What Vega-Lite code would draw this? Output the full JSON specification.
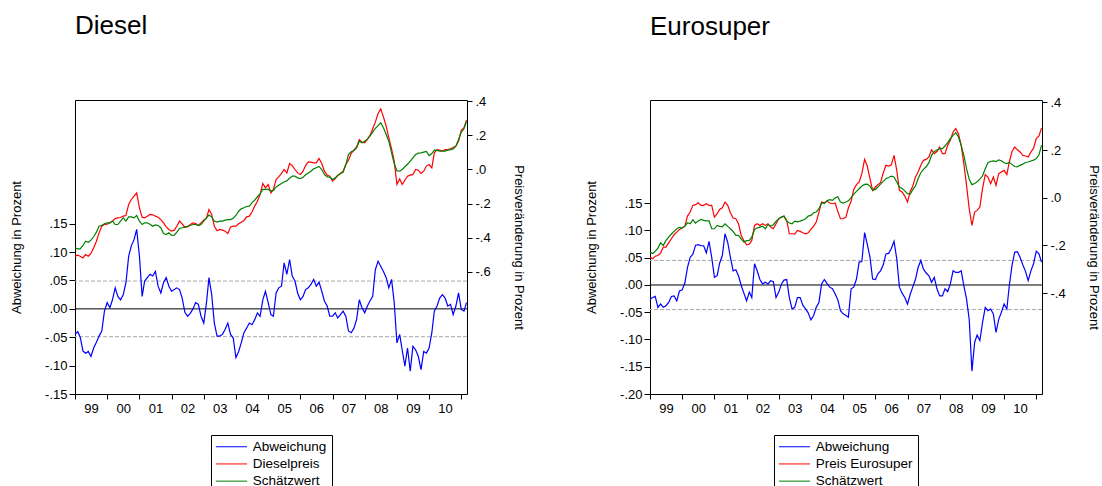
{
  "$schema": "https://vega.github.io/schema/vega-lite/v6.json",
  "padding": {"left": 10, "top": 12, "right": 5, "bottom": 5},
  "background": "white",
  "config": {
    "font": "Liberation Sans",
    "view": {"stroke": "black", "strokeWidth": 1},
    "axis": {"grid": false, "domain": false, "tickColor": "black", "tickSize": 5, "labelColor": "black", "labelFont": "Liberation Sans", "labelFontSize": 13, "titleFont": "Liberation Sans", "titleFontSize": 13, "titleFontWeight": "normal", "titleColor": "black"},
    "legend": {"orient": "none", "direction": "vertical", "title": null, "symbolType": "M-2.6,0H2.6", "symbolSize": 144, "symbolStrokeWidth": 1, "symbolOffset": 8.75, "labelFontSize": 13.5, "labelFont": "Liberation Sans", "labelColor": "black", "strokeColor": "black", "fillColor": "white", "padding": 5, "rowPadding": 2.2, "labelOffset": 14.5},
    "title": {"font": "Liberation Sans", "fontSize": 26, "fontWeight": "normal", "color": "black", "anchor": "start", "frame": "group"}
  },
  "datasets": {
    "diesel": [
      {"date":"1999-01","Abweichung":-0.045,"Dieselpreis":-0.509,"Schätzwert":-0.46},
      {"date":"1999-02","Abweichung":-0.04,"Dieselpreis":-0.503,"Schätzwert":-0.466},
      {"date":"1999-03","Abweichung":-0.05,"Dieselpreis":-0.509,"Schätzwert":-0.466},
      {"date":"1999-04","Abweichung":-0.074,"Dieselpreis":-0.519,"Schätzwert":-0.446},
      {"date":"1999-05","Abweichung":-0.078,"Dieselpreis":-0.499,"Schätzwert":-0.421},
      {"date":"1999-06","Abweichung":-0.075,"Dieselpreis":-0.509,"Schätzwert":-0.427},
      {"date":"1999-07","Abweichung":-0.084,"Dieselpreis":-0.493,"Schätzwert":-0.415},
      {"date":"1999-08","Abweichung":-0.069,"Dieselpreis":-0.46,"Schätzwert":-0.395},
      {"date":"1999-09","Abweichung":-0.059,"Dieselpreis":-0.421,"Schätzwert":-0.368},
      {"date":"1999-10","Abweichung":-0.048,"Dieselpreis":-0.372,"Schätzwert":-0.333},
      {"date":"1999-11","Abweichung":-0.039,"Dieselpreis":-0.333,"Schätzwert":-0.327},
      {"date":"1999-12","Abweichung":-0.004,"Dieselpreis":-0.323,"Schätzwert":-0.319},
      {"date":"2000-01","Abweichung":0.011,"Dieselpreis":-0.321,"Schätzwert":-0.313},
      {"date":"2000-02","Abweichung":0.002,"Dieselpreis":-0.313,"Schätzwert":-0.313},
      {"date":"2000-03","Abweichung":0.016,"Dieselpreis":-0.303,"Schätzwert":-0.303},
      {"date":"2000-04","Abweichung":0.037,"Dieselpreis":-0.288,"Schätzwert":-0.323},
      {"date":"2000-05","Abweichung":0.022,"Dieselpreis":-0.284,"Schätzwert":-0.323},
      {"date":"2000-06","Abweichung":0.016,"Dieselpreis":-0.282,"Schätzwert":-0.303},
      {"date":"2000-07","Abweichung":0.025,"Dieselpreis":-0.274,"Schätzwert":-0.284},
      {"date":"2000-08","Abweichung":0.046,"Dieselpreis":-0.27,"Schätzwert":-0.303},
      {"date":"2000-09","Abweichung":0.093,"Dieselpreis":-0.205,"Schätzwert":-0.278},
      {"date":"2000-10","Abweichung":0.111,"Dieselpreis":-0.176,"Schätzwert":-0.278},
      {"date":"2000-11","Abweichung":0.122,"Dieselpreis":-0.157,"Schätzwert":-0.284},
      {"date":"2000-12","Abweichung":0.14,"Dieselpreis":-0.137,"Schätzwert":-0.27},
      {"date":"2001-01","Abweichung":0.093,"Dieselpreis":-0.225,"Schätzwert":-0.303},
      {"date":"2001-02","Abweichung":0.022,"Dieselpreis":-0.28,"Schätzwert":-0.323},
      {"date":"2001-03","Abweichung":0.049,"Dieselpreis":-0.284,"Schätzwert":-0.313},
      {"date":"2001-04","Abweichung":0.055,"Dieselpreis":-0.274,"Schätzwert":-0.313},
      {"date":"2001-05","Abweichung":0.061,"Dieselpreis":-0.264,"Schätzwert":-0.321},
      {"date":"2001-06","Abweichung":0.058,"Dieselpreis":-0.266,"Schätzwert":-0.333},
      {"date":"2001-07","Abweichung":0.066,"Dieselpreis":-0.274,"Schätzwert":-0.325},
      {"date":"2001-08","Abweichung":0.04,"Dieselpreis":-0.28,"Schätzwert":-0.329},
      {"date":"2001-09","Abweichung":0.028,"Dieselpreis":-0.294,"Schätzwert":-0.342},
      {"date":"2001-10","Abweichung":0.046,"Dieselpreis":-0.313,"Schätzwert":-0.376},
      {"date":"2001-11","Abweichung":0.055,"Dieselpreis":-0.337,"Schätzwert":-0.382},
      {"date":"2001-12","Abweichung":0.04,"Dieselpreis":-0.352,"Schätzwert":-0.372},
      {"date":"2002-01","Abweichung":0.031,"Dieselpreis":-0.362,"Schätzwert":-0.387},
      {"date":"2002-02","Abweichung":0.034,"Dieselpreis":-0.356,"Schätzwert":-0.386},
      {"date":"2002-03","Abweichung":0.037,"Dieselpreis":-0.333,"Schätzwert":-0.368},
      {"date":"2002-04","Abweichung":0.034,"Dieselpreis":-0.303,"Schätzwert":-0.346},
      {"date":"2002-05","Abweichung":0.019,"Dieselpreis":-0.319,"Schätzwert":-0.342},
      {"date":"2002-06","Abweichung":-0.006,"Dieselpreis":-0.339,"Schätzwert":-0.337},
      {"date":"2002-07","Abweichung":-0.013,"Dieselpreis":-0.337,"Schätzwert":-0.333},
      {"date":"2002-08","Abweichung":-0.008,"Dieselpreis":-0.323,"Schätzwert":-0.329},
      {"date":"2002-09","Abweichung":0,"Dieselpreis":-0.313,"Schätzwert":-0.323},
      {"date":"2002-10","Abweichung":0.011,"Dieselpreis":-0.317,"Schätzwert":-0.323},
      {"date":"2002-11","Abweichung":0.008,"Dieselpreis":-0.329,"Schätzwert":-0.329},
      {"date":"2002-12","Abweichung":-0.013,"Dieselpreis":-0.313,"Schätzwert":-0.323},
      {"date":"2003-01","Abweichung":-0.025,"Dieselpreis":-0.297,"Schätzwert":-0.303},
      {"date":"2003-02","Abweichung":0.011,"Dieselpreis":-0.284,"Schätzwert":-0.284},
      {"date":"2003-03","Abweichung":0.055,"Dieselpreis":-0.235,"Schätzwert":-0.268},
      {"date":"2003-04","Abweichung":0.025,"Dieselpreis":-0.264,"Schätzwert":-0.278},
      {"date":"2003-05","Abweichung":-0.025,"Dieselpreis":-0.333,"Schätzwert":-0.303},
      {"date":"2003-06","Abweichung":-0.048,"Dieselpreis":-0.36,"Schätzwert":-0.309},
      {"date":"2003-07","Abweichung":-0.048,"Dieselpreis":-0.352,"Schätzwert":-0.303},
      {"date":"2003-08","Abweichung":-0.045,"Dieselpreis":-0.356,"Schätzwert":-0.303},
      {"date":"2003-09","Abweichung":-0.036,"Dieselpreis":-0.362,"Schätzwert":-0.297},
      {"date":"2003-10","Abweichung":-0.025,"Dieselpreis":-0.376,"Schätzwert":-0.294},
      {"date":"2003-11","Abweichung":-0.045,"Dieselpreis":-0.337,"Schätzwert":-0.294},
      {"date":"2003-12","Abweichung":-0.051,"Dieselpreis":-0.333,"Schätzwert":-0.286},
      {"date":"2004-01","Abweichung":-0.086,"Dieselpreis":-0.333,"Schätzwert":-0.27},
      {"date":"2004-02","Abweichung":-0.075,"Dieselpreis":-0.319,"Schätzwert":-0.245},
      {"date":"2004-03","Abweichung":-0.06,"Dieselpreis":-0.309,"Schätzwert":-0.231},
      {"date":"2004-04","Abweichung":-0.042,"Dieselpreis":-0.299,"Schätzwert":-0.225},
      {"date":"2004-05","Abweichung":-0.034,"Dieselpreis":-0.278,"Schätzwert":-0.217},
      {"date":"2004-06","Abweichung":-0.025,"Dieselpreis":-0.274,"Schätzwert":-0.215},
      {"date":"2004-07","Abweichung":-0.028,"Dieselpreis":-0.25,"Schätzwert":-0.196},
      {"date":"2004-08","Abweichung":-0.019,"Dieselpreis":-0.215,"Schätzwert":-0.18},
      {"date":"2004-09","Abweichung":-0.007,"Dieselpreis":-0.186,"Schätzwert":-0.16},
      {"date":"2004-10","Abweichung":-0.013,"Dieselpreis":-0.147,"Schätzwert":-0.143},
      {"date":"2004-11","Abweichung":0.016,"Dieselpreis":-0.082,"Schätzwert":-0.117},
      {"date":"2004-12","Abweichung":0.031,"Dieselpreis":-0.108,"Schätzwert":-0.117},
      {"date":"2005-01","Abweichung":0.011,"Dieselpreis":-0.088,"Schätzwert":-0.117},
      {"date":"2005-02","Abweichung":-0.01,"Dieselpreis":-0.137,"Schätzwert":-0.127},
      {"date":"2005-03","Abweichung":-0.013,"Dieselpreis":-0.117,"Schätzwert":-0.123},
      {"date":"2005-04","Abweichung":0.028,"Dieselpreis":-0.059,"Schätzwert":-0.102},
      {"date":"2005-05","Abweichung":0.037,"Dieselpreis":-0.043,"Schätzwert":-0.092},
      {"date":"2005-06","Abweichung":0.04,"Dieselpreis":-0.023,"Schätzwert":-0.082},
      {"date":"2005-07","Abweichung":0.081,"Dieselpreis":0,"Schätzwert":-0.072},
      {"date":"2005-08","Abweichung":0.061,"Dieselpreis":-0.02,"Schätzwert":-0.067},
      {"date":"2005-09","Abweichung":0.087,"Dieselpreis":0.035,"Schätzwert":-0.051},
      {"date":"2005-10","Abweichung":0.058,"Dieselpreis":0.023,"Schätzwert":-0.039},
      {"date":"2005-11","Abweichung":0.049,"Dieselpreis":0,"Schätzwert":-0.039},
      {"date":"2005-12","Abweichung":0.028,"Dieselpreis":-0.02,"Schätzwert":-0.049},
      {"date":"2006-01","Abweichung":0.016,"Dieselpreis":-0.029,"Schätzwert":-0.053},
      {"date":"2006-02","Abweichung":0.022,"Dieselpreis":-0.01,"Schätzwert":-0.045},
      {"date":"2006-03","Abweichung":0.034,"Dieselpreis":0.023,"Schätzwert":-0.031},
      {"date":"2006-04","Abweichung":0.037,"Dieselpreis":0.045,"Schätzwert":-0.02},
      {"date":"2006-05","Abweichung":0.043,"Dieselpreis":0.043,"Schätzwert":-0.01},
      {"date":"2006-06","Abweichung":0.052,"Dieselpreis":0.039,"Schätzwert":0.004},
      {"date":"2006-07","Abweichung":0.04,"Dieselpreis":0.039,"Schätzwert":0.01},
      {"date":"2006-08","Abweichung":0.047,"Dieselpreis":0.065,"Schätzwert":0.018},
      {"date":"2006-09","Abweichung":0.031,"Dieselpreis":0.035,"Schätzwert":0},
      {"date":"2006-10","Abweichung":0.014,"Dieselpreis":-0.01,"Schätzwert":-0.029},
      {"date":"2006-11","Abweichung":0.005,"Dieselpreis":-0.033,"Schätzwert":-0.043},
      {"date":"2006-12","Abweichung":-0.013,"Dieselpreis":-0.039,"Schätzwert":-0.045},
      {"date":"2007-01","Abweichung":-0.013,"Dieselpreis":-0.068,"Schätzwert":-0.059},
      {"date":"2007-02","Abweichung":-0.007,"Dieselpreis":-0.053,"Schätzwert":-0.049},
      {"date":"2007-03","Abweichung":-0.016,"Dieselpreis":-0.035,"Schätzwert":-0.035},
      {"date":"2007-04","Abweichung":-0.01,"Dieselpreis":-0.023,"Schätzwert":-0.023},
      {"date":"2007-05","Abweichung":-0.004,"Dieselpreis":-0.01,"Schätzwert":-0.016},
      {"date":"2007-06","Abweichung":-0.013,"Dieselpreis":0.029,"Schätzwert":0.029},
      {"date":"2007-07","Abweichung":-0.039,"Dieselpreis":0.055,"Schätzwert":0.088},
      {"date":"2007-08","Abweichung":-0.042,"Dieselpreis":0.094,"Schätzwert":0.104},
      {"date":"2007-09","Abweichung":-0.034,"Dieselpreis":0.114,"Schätzwert":0.112},
      {"date":"2007-10","Abweichung":-0.019,"Dieselpreis":0.133,"Schätzwert":0.127},
      {"date":"2007-11","Abweichung":0.016,"Dieselpreis":0.176,"Schätzwert":0.166},
      {"date":"2007-12","Abweichung":0.002,"Dieselpreis":0.16,"Schätzwert":0.157},
      {"date":"2008-01","Abweichung":-0.007,"Dieselpreis":0.157,"Schätzwert":0.166},
      {"date":"2008-02","Abweichung":0.005,"Dieselpreis":0.176,"Schätzwert":0.18},
      {"date":"2008-03","Abweichung":0.014,"Dieselpreis":0.2,"Schätzwert":0.196},
      {"date":"2008-04","Abweichung":0.022,"Dieselpreis":0.239,"Schätzwert":0.219},
      {"date":"2008-05","Abweichung":0.069,"Dieselpreis":0.278,"Schätzwert":0.241},
      {"date":"2008-06","Abweichung":0.084,"Dieselpreis":0.329,"Schätzwert":0.258},
      {"date":"2008-07","Abweichung":0.075,"Dieselpreis":0.356,"Schätzwert":0.274},
      {"date":"2008-08","Abweichung":0.066,"Dieselpreis":0.309,"Schätzwert":0.245},
      {"date":"2008-09","Abweichung":0.055,"Dieselpreis":0.254,"Schätzwert":0.205},
      {"date":"2008-10","Abweichung":0.037,"Dieselpreis":0.186,"Schätzwert":0.166},
      {"date":"2008-11","Abweichung":0.052,"Dieselpreis":0.121,"Schätzwert":0.098},
      {"date":"2008-12","Abweichung":0.011,"Dieselpreis":0.049,"Schätzwert":0.035},
      {"date":"2009-01","Abweichung":-0.06,"Dieselpreis":-0.088,"Schätzwert":-0.008},
      {"date":"2009-02","Abweichung":-0.045,"Dieselpreis":-0.055,"Schätzwert":-0.01},
      {"date":"2009-03","Abweichung":-0.072,"Dieselpreis":-0.088,"Schätzwert":0},
      {"date":"2009-04","Abweichung":-0.101,"Dieselpreis":-0.063,"Schätzwert":0.016},
      {"date":"2009-05","Abweichung":-0.069,"Dieselpreis":-0.039,"Schätzwert":0.031},
      {"date":"2009-06","Abweichung":-0.11,"Dieselpreis":-0.033,"Schätzwert":0.049},
      {"date":"2009-07","Abweichung":-0.066,"Dieselpreis":-0.029,"Schätzwert":0.068},
      {"date":"2009-08","Abweichung":-0.072,"Dieselpreis":0,"Schätzwert":0.088},
      {"date":"2009-09","Abweichung":-0.084,"Dieselpreis":-0.004,"Schätzwert":0.096},
      {"date":"2009-10","Abweichung":-0.107,"Dieselpreis":-0.023,"Schätzwert":0.098},
      {"date":"2009-11","Abweichung":-0.075,"Dieselpreis":-0.01,"Schätzwert":0.102},
      {"date":"2009-12","Abweichung":-0.078,"Dieselpreis":0.02,"Schätzwert":0.106},
      {"date":"2010-01","Abweichung":-0.069,"Dieselpreis":0.029,"Schätzwert":0.082},
      {"date":"2010-02","Abweichung":-0.042,"Dieselpreis":0.01,"Schätzwert":0.094},
      {"date":"2010-03","Abweichung":-0.004,"Dieselpreis":0.098,"Schätzwert":0.114},
      {"date":"2010-04","Abweichung":0.005,"Dieselpreis":0.117,"Schätzwert":0.112},
      {"date":"2010-05","Abweichung":0.019,"Dieselpreis":0.114,"Schätzwert":0.108},
      {"date":"2010-06","Abweichung":0.025,"Dieselpreis":0.108,"Schätzwert":0.108},
      {"date":"2010-07","Abweichung":0.019,"Dieselpreis":0.117,"Schätzwert":0.108},
      {"date":"2010-08","Abweichung":0.005,"Dieselpreis":0.117,"Schätzwert":0.114},
      {"date":"2010-09","Abweichung":0.008,"Dieselpreis":0.121,"Schätzwert":0.117},
      {"date":"2010-10","Abweichung":-0.01,"Dieselpreis":0.129,"Schätzwert":0.121},
      {"date":"2010-11","Abweichung":0.005,"Dieselpreis":0.137,"Schätzwert":0.137},
      {"date":"2010-12","Abweichung":0.028,"Dieselpreis":0.166,"Schätzwert":0.176},
      {"date":"2011-01","Abweichung":-0.001,"Dieselpreis":0.231,"Schätzwert":0.219},
      {"date":"2011-02","Abweichung":-0.004,"Dieselpreis":0.245,"Schätzwert":0.239},
      {"date":"2011-03","Abweichung":0.011,"Dieselpreis":0.29,"Schätzwert":0.282}
    ],
    "euro": [
      {"date":"1999-01","Abweichung":-0.026,"Preis Eurosuper":-0.249,"Schätzwert":-0.228},
      {"date":"1999-02","Abweichung":-0.023,"Preis Eurosuper":-0.256,"Schätzwert":-0.234},
      {"date":"1999-03","Abweichung":-0.021,"Preis Eurosuper":-0.245,"Schätzwert":-0.225},
      {"date":"1999-04","Abweichung":-0.041,"Preis Eurosuper":-0.242,"Schätzwert":-0.211},
      {"date":"1999-05","Abweichung":-0.035,"Preis Eurosuper":-0.232,"Schätzwert":-0.189},
      {"date":"1999-06","Abweichung":-0.041,"Preis Eurosuper":-0.207,"Schätzwert":-0.2},
      {"date":"1999-07","Abweichung":-0.038,"Preis Eurosuper":-0.207,"Schätzwert":-0.179},
      {"date":"1999-08","Abweichung":-0.032,"Preis Eurosuper":-0.189,"Schätzwert":-0.165},
      {"date":"1999-09","Abweichung":-0.021,"Preis Eurosuper":-0.172,"Schätzwert":-0.152},
      {"date":"1999-10","Abweichung":-0.02,"Preis Eurosuper":-0.155,"Schätzwert":-0.141},
      {"date":"1999-11","Abweichung":-0.029,"Preis Eurosuper":-0.144,"Schätzwert":-0.13},
      {"date":"1999-12","Abweichung":-0.011,"Preis Eurosuper":-0.133,"Schätzwert":-0.124},
      {"date":"2000-01","Abweichung":-0.009,"Preis Eurosuper":-0.127,"Schätzwert":-0.127},
      {"date":"2000-02","Abweichung":0.004,"Preis Eurosuper":-0.119,"Schätzwert":-0.119},
      {"date":"2000-03","Abweichung":0.032,"Preis Eurosuper":-0.077,"Schätzwert":-0.105},
      {"date":"2000-04","Abweichung":0.051,"Preis Eurosuper":-0.06,"Schätzwert":-0.109},
      {"date":"2000-05","Abweichung":0.056,"Preis Eurosuper":-0.032,"Schätzwert":-0.092},
      {"date":"2000-06","Abweichung":0.073,"Preis Eurosuper":-0.029,"Schätzwert":-0.106},
      {"date":"2000-07","Abweichung":0.074,"Preis Eurosuper":-0.021,"Schätzwert":-0.097},
      {"date":"2000-08","Abweichung":0.072,"Preis Eurosuper":-0.032,"Schätzwert":-0.091},
      {"date":"2000-09","Abweichung":0.072,"Preis Eurosuper":-0.032,"Schätzwert":-0.095},
      {"date":"2000-10","Abweichung":0.059,"Preis Eurosuper":-0.025,"Schätzwert":-0.097},
      {"date":"2000-11","Abweichung":0.08,"Preis Eurosuper":-0.032,"Schätzwert":-0.097},
      {"date":"2000-12","Abweichung":0.051,"Preis Eurosuper":-0.032,"Schätzwert":-0.13},
      {"date":"2001-01","Abweichung":0.014,"Preis Eurosuper":-0.081,"Schätzwert":-0.13},
      {"date":"2001-02","Abweichung":0.017,"Preis Eurosuper":-0.067,"Schätzwert":-0.116},
      {"date":"2001-03","Abweichung":0.04,"Preis Eurosuper":-0.049,"Schätzwert":-0.12},
      {"date":"2001-04","Abweichung":0.054,"Preis Eurosuper":-0.042,"Schätzwert":-0.122},
      {"date":"2001-05","Abweichung":0.094,"Preis Eurosuper":-0.018,"Schätzwert":-0.109},
      {"date":"2001-06","Abweichung":0.078,"Preis Eurosuper":-0.032,"Schätzwert":-0.12},
      {"date":"2001-07","Abweichung":0.051,"Preis Eurosuper":-0.063,"Schätzwert":-0.13},
      {"date":"2001-08","Abweichung":0.026,"Preis Eurosuper":-0.085,"Schätzwert":-0.141},
      {"date":"2001-09","Abweichung":0.028,"Preis Eurosuper":-0.088,"Schätzwert":-0.158},
      {"date":"2001-10","Abweichung":0.017,"Preis Eurosuper":-0.109,"Schätzwert":-0.158},
      {"date":"2001-11","Abweichung":-0.001,"Preis Eurosuper":-0.158,"Schätzwert":-0.172},
      {"date":"2001-12","Abweichung":-0.015,"Preis Eurosuper":-0.18,"Schätzwert":-0.186},
      {"date":"2002-01","Abweichung":-0.029,"Preis Eurosuper":-0.197,"Schätzwert":-0.18},
      {"date":"2002-02","Abweichung":-0.013,"Preis Eurosuper":-0.194,"Schätzwert":-0.179},
      {"date":"2002-03","Abweichung":-0.023,"Preis Eurosuper":-0.179,"Schätzwert":-0.165},
      {"date":"2002-04","Abweichung":0.039,"Preis Eurosuper":-0.116,"Schätzwert":-0.133},
      {"date":"2002-05","Abweichung":0.026,"Preis Eurosuper":-0.109,"Schätzwert":-0.127},
      {"date":"2002-06","Abweichung":0.01,"Preis Eurosuper":-0.116,"Schätzwert":-0.123},
      {"date":"2002-07","Abweichung":0.002,"Preis Eurosuper":-0.109,"Schätzwert":-0.119},
      {"date":"2002-08","Abweichung":0.005,"Preis Eurosuper":-0.116,"Schätzwert":-0.13},
      {"date":"2002-09","Abweichung":0.002,"Preis Eurosuper":-0.109,"Schätzwert":-0.112},
      {"date":"2002-10","Abweichung":0.008,"Preis Eurosuper":-0.123,"Schätzwert":-0.119},
      {"date":"2002-11","Abweichung":0.006,"Preis Eurosuper":-0.13,"Schätzwert":-0.113},
      {"date":"2002-12","Abweichung":-0.023,"Preis Eurosuper":-0.109,"Schätzwert":-0.099},
      {"date":"2003-01","Abweichung":-0.013,"Preis Eurosuper":-0.088,"Schätzwert":-0.088},
      {"date":"2003-02","Abweichung":0.002,"Preis Eurosuper":-0.081,"Schätzwert":-0.081},
      {"date":"2003-03","Abweichung":0.009,"Preis Eurosuper":-0.077,"Schätzwert":-0.077},
      {"date":"2003-04","Abweichung":0.01,"Preis Eurosuper":-0.094,"Schätzwert":-0.098},
      {"date":"2003-05","Abweichung":-0.023,"Preis Eurosuper":-0.151,"Schätzwert":-0.106},
      {"date":"2003-06","Abweichung":-0.044,"Preis Eurosuper":-0.151,"Schätzwert":-0.109},
      {"date":"2003-07","Abweichung":-0.041,"Preis Eurosuper":-0.152,"Schätzwert":-0.098},
      {"date":"2003-08","Abweichung":-0.023,"Preis Eurosuper":-0.137,"Schätzwert":-0.101},
      {"date":"2003-09","Abweichung":-0.023,"Preis Eurosuper":-0.141,"Schätzwert":-0.098},
      {"date":"2003-10","Abweichung":-0.037,"Preis Eurosuper":-0.147,"Schätzwert":-0.094},
      {"date":"2003-11","Abweichung":-0.044,"Preis Eurosuper":-0.151,"Schätzwert":-0.088},
      {"date":"2003-12","Abweichung":-0.051,"Preis Eurosuper":-0.147,"Schätzwert":-0.077},
      {"date":"2004-01","Abweichung":-0.064,"Preis Eurosuper":-0.133,"Schätzwert":-0.074},
      {"date":"2004-02","Abweichung":-0.056,"Preis Eurosuper":-0.119,"Schätzwert":-0.063},
      {"date":"2004-03","Abweichung":-0.041,"Preis Eurosuper":-0.102,"Schätzwert":-0.06},
      {"date":"2004-04","Abweichung":-0.032,"Preis Eurosuper":-0.06,"Schätzwert":-0.046},
      {"date":"2004-05","Abweichung":0.002,"Preis Eurosuper":-0.018,"Schätzwert":-0.021},
      {"date":"2004-06","Abweichung":0.01,"Preis Eurosuper":-0.021,"Schätzwert":-0.024},
      {"date":"2004-07","Abweichung":0.003,"Preis Eurosuper":-0.014,"Schätzwert":-0.013},
      {"date":"2004-08","Abweichung":-0.004,"Preis Eurosuper":-0.022,"Schätzwert":-0.008},
      {"date":"2004-09","Abweichung":-0.007,"Preis Eurosuper":-0.025,"Schätzwert":-0.011},
      {"date":"2004-10","Abweichung":-0.016,"Preis Eurosuper":-0.022,"Schätzwert":-0.001},
      {"date":"2004-11","Abweichung":-0.027,"Preis Eurosuper":-0.057,"Schätzwert":0.004},
      {"date":"2004-12","Abweichung":-0.047,"Preis Eurosuper":-0.088,"Schätzwert":-0.018},
      {"date":"2005-01","Abweichung":-0.053,"Preis Eurosuper":-0.088,"Schätzwert":-0.022},
      {"date":"2005-02","Abweichung":-0.056,"Preis Eurosuper":-0.081,"Schätzwert":-0.018},
      {"date":"2005-03","Abweichung":-0.059,"Preis Eurosuper":-0.043,"Schätzwert":-0.013},
      {"date":"2005-04","Abweichung":-0.007,"Preis Eurosuper":-0.015,"Schätzwert":0.001},
      {"date":"2005-05","Abweichung":-0.004,"Preis Eurosuper":0.035,"Schätzwert":0.015},
      {"date":"2005-06","Abweichung":0.011,"Preis Eurosuper":0.055,"Schätzwert":0.027},
      {"date":"2005-07","Abweichung":0.042,"Preis Eurosuper":0.066,"Schätzwert":0.038},
      {"date":"2005-08","Abweichung":0.043,"Preis Eurosuper":0.101,"Schätzwert":0.049},
      {"date":"2005-09","Abweichung":0.096,"Preis Eurosuper":0.161,"Schätzwert":0.056},
      {"date":"2005-10","Abweichung":0.075,"Preis Eurosuper":0.133,"Schätzwert":0.057},
      {"date":"2005-11","Abweichung":0.051,"Preis Eurosuper":0.08,"Schätzwert":0.049},
      {"date":"2005-12","Abweichung":0.011,"Preis Eurosuper":0.031,"Schätzwert":0.031},
      {"date":"2006-01","Abweichung":0.01,"Preis Eurosuper":0.045,"Schätzwert":0.035},
      {"date":"2006-02","Abweichung":0.021,"Preis Eurosuper":0.056,"Schätzwert":0.046},
      {"date":"2006-03","Abweichung":0.026,"Preis Eurosuper":0.063,"Schätzwert":0.057},
      {"date":"2006-04","Abweichung":0.037,"Preis Eurosuper":0.105,"Schätzwert":0.069},
      {"date":"2006-05","Abweichung":0.057,"Preis Eurosuper":0.136,"Schätzwert":0.08},
      {"date":"2006-06","Abweichung":0.058,"Preis Eurosuper":0.133,"Schätzwert":0.085},
      {"date":"2006-07","Abweichung":0.067,"Preis Eurosuper":0.138,"Schätzwert":0.091},
      {"date":"2006-08","Abweichung":0.08,"Preis Eurosuper":0.178,"Schätzwert":0.087},
      {"date":"2006-09","Abweichung":0.048,"Preis Eurosuper":0.115,"Schätzwert":0.066},
      {"date":"2006-10","Abweichung":-0.004,"Preis Eurosuper":0.031,"Schätzwert":0.045},
      {"date":"2006-11","Abweichung":-0.015,"Preis Eurosuper":0.024,"Schätzwert":0.039},
      {"date":"2006-12","Abweichung":-0.023,"Preis Eurosuper":0.007,"Schätzwert":0.029},
      {"date":"2007-01","Abweichung":-0.035,"Preis Eurosuper":-0.018,"Schätzwert":0.017},
      {"date":"2007-02","Abweichung":-0.017,"Preis Eurosuper":0.027,"Schätzwert":0.015},
      {"date":"2007-03","Abweichung":-0.004,"Preis Eurosuper":0.048,"Schätzwert":0.034},
      {"date":"2007-04","Abweichung":0.01,"Preis Eurosuper":0.087,"Schätzwert":0.049},
      {"date":"2007-05","Abweichung":0.032,"Preis Eurosuper":0.108,"Schätzwert":0.08},
      {"date":"2007-06","Abweichung":0.045,"Preis Eurosuper":0.136,"Schätzwert":0.105},
      {"date":"2007-07","Abweichung":0.029,"Preis Eurosuper":0.157,"Schätzwert":0.119},
      {"date":"2007-08","Abweichung":0.022,"Preis Eurosuper":0.161,"Schätzwert":0.13},
      {"date":"2007-09","Abweichung":0.017,"Preis Eurosuper":0.171,"Schätzwert":0.147},
      {"date":"2007-10","Abweichung":0.005,"Preis Eurosuper":0.201,"Schätzwert":0.178},
      {"date":"2007-11","Abweichung":0.014,"Preis Eurosuper":0.185,"Schätzwert":0.194},
      {"date":"2007-12","Abweichung":-0.007,"Preis Eurosuper":0.194,"Schätzwert":0.2},
      {"date":"2008-01","Abweichung":-0.02,"Preis Eurosuper":0.213,"Schätzwert":0.206},
      {"date":"2008-02","Abweichung":-0.02,"Preis Eurosuper":0.185,"Schätzwert":0.206},
      {"date":"2008-03","Abweichung":-0.007,"Preis Eurosuper":0.185,"Schätzwert":0.217},
      {"date":"2008-04","Abweichung":-0.012,"Preis Eurosuper":0.22,"Schätzwert":0.231},
      {"date":"2008-05","Abweichung":0.002,"Preis Eurosuper":0.241,"Schätzwert":0.248},
      {"date":"2008-06","Abweichung":0.026,"Preis Eurosuper":0.276,"Schätzwert":0.262},
      {"date":"2008-07","Abweichung":0.023,"Preis Eurosuper":0.29,"Schätzwert":0.273},
      {"date":"2008-08","Abweichung":0.023,"Preis Eurosuper":0.269,"Schätzwert":0.255},
      {"date":"2008-09","Abweichung":0.026,"Preis Eurosuper":0.22,"Schätzwert":0.22},
      {"date":"2008-10","Abweichung":-0.001,"Preis Eurosuper":0.143,"Schätzwert":0.178},
      {"date":"2008-11","Abweichung":-0.026,"Preis Eurosuper":0.052,"Schätzwert":0.122},
      {"date":"2008-12","Abweichung":-0.063,"Preis Eurosuper":-0.046,"Schätzwert":0.077},
      {"date":"2009-01","Abweichung":-0.158,"Preis Eurosuper":-0.116,"Schätzwert":0.055},
      {"date":"2009-02","Abweichung":-0.105,"Preis Eurosuper":-0.06,"Schätzwert":0.06},
      {"date":"2009-03","Abweichung":-0.092,"Preis Eurosuper":-0.053,"Schätzwert":0.067},
      {"date":"2009-04","Abweichung":-0.102,"Preis Eurosuper":-0.039,"Schätzwert":0.078},
      {"date":"2009-05","Abweichung":-0.069,"Preis Eurosuper":0.038,"Schätzwert":0.091},
      {"date":"2009-06","Abweichung":-0.041,"Preis Eurosuper":0.097,"Schätzwert":0.122},
      {"date":"2009-07","Abweichung":-0.047,"Preis Eurosuper":0.087,"Schätzwert":0.147},
      {"date":"2009-08","Abweichung":-0.044,"Preis Eurosuper":0.059,"Schätzwert":0.152},
      {"date":"2009-09","Abweichung":-0.053,"Preis Eurosuper":0.087,"Schätzwert":0.155},
      {"date":"2009-10","Abweichung":-0.087,"Preis Eurosuper":0.052,"Schätzwert":0.152},
      {"date":"2009-11","Abweichung":-0.063,"Preis Eurosuper":0.101,"Schätzwert":0.159},
      {"date":"2009-12","Abweichung":-0.05,"Preis Eurosuper":0.108,"Schätzwert":0.155},
      {"date":"2010-01","Abweichung":-0.035,"Preis Eurosuper":0.115,"Schätzwert":0.147},
      {"date":"2010-02","Abweichung":-0.044,"Preis Eurosuper":0.097,"Schätzwert":0.143},
      {"date":"2010-03","Abweichung":-0.001,"Preis Eurosuper":0.15,"Schätzwert":0.148},
      {"date":"2010-04","Abweichung":0.036,"Preis Eurosuper":0.194,"Schätzwert":0.14},
      {"date":"2010-05","Abweichung":0.06,"Preis Eurosuper":0.213,"Schätzwert":0.131},
      {"date":"2010-06","Abweichung":0.061,"Preis Eurosuper":0.201,"Schätzwert":0.13},
      {"date":"2010-07","Abweichung":0.051,"Preis Eurosuper":0.192,"Schätzwert":0.136},
      {"date":"2010-08","Abweichung":0.037,"Preis Eurosuper":0.178,"Schätzwert":0.141},
      {"date":"2010-09","Abweichung":0.025,"Preis Eurosuper":0.175,"Schätzwert":0.148},
      {"date":"2010-10","Abweichung":0.008,"Preis Eurosuper":0.171,"Schätzwert":0.15},
      {"date":"2010-11","Abweichung":0.026,"Preis Eurosuper":0.192,"Schätzwert":0.154},
      {"date":"2010-12","Abweichung":0.039,"Preis Eurosuper":0.208,"Schätzwert":0.158},
      {"date":"2011-01","Abweichung":0.062,"Preis Eurosuper":0.248,"Schätzwert":0.164},
      {"date":"2011-02","Abweichung":0.057,"Preis Eurosuper":0.259,"Schätzwert":0.18},
      {"date":"2011-03","Abweichung":0.042,"Preis Eurosuper":0.292,"Schätzwert":0.22}
    ]
  },
  "hconcat": [
    {
      "title": {"text": "Diesel", "offset": 56},
      "width": 392,
      "height": 294,
      "data": {"name": "diesel"},
      "layer": [
        {
          "layer": [
            {
              "data": {"values": [{}]},
              "mark": {"type": "rule", "color": "#aaaaaa", "strokeDash": [4, 2], "strokeWidth": 1},
              "encoding": {"y": {"datum": 0.049, "type": "quantitative", "scale": {"domain": [-0.15, 0.368], "nice": false, "zero": false},
                "axis": {"orient": "left", "title": "Abweichung in Prozent", "values": [-0.15, -0.1, -0.05, 0, 0.05, 0.1, 0.15], "tickSize": 6, "labelPadding": 2, "titlePadding": 21, "labelExpr": "replace(replace(format(datum.value, '.2f'), '0.', '.'), '\u2212', '-')"}}}
            },
            {
              "data": {"values": [{}]},
              "mark": {"type": "rule", "color": "#aaaaaa", "strokeDash": [4, 2], "strokeWidth": 1},
              "encoding": {"y": {"datum": -0.049, "type": "quantitative", "scale": {"domain": [-0.15, 0.368], "nice": false, "zero": false},
                "axis": {"orient": "left", "title": "Abweichung in Prozent", "values": [-0.15, -0.1, -0.05, 0, 0.05, 0.1, 0.15], "tickSize": 6, "labelPadding": 2, "titlePadding": 21, "labelExpr": "replace(replace(format(datum.value, '.2f'), '0.', '.'), '\u2212', '-')"}}}
            },
            {
              "data": {"values": [{}]},
              "mark": {"type": "rule", "color": "black", "strokeWidth": 1},
              "encoding": {"y": {"datum": 0, "type": "quantitative", "scale": {"domain": [-0.15, 0.368], "nice": false, "zero": false},
                "axis": {"orient": "left", "title": "Abweichung in Prozent", "values": [-0.15, -0.1, -0.05, 0, 0.05, 0.1, 0.15], "tickSize": 6, "labelPadding": 2, "titlePadding": 21, "labelExpr": "replace(replace(format(datum.value, '.2f'), '0.', '.'), '\u2212', '-')"}}}
            },
            {
              "transform": [{"fold": ["Abweichung"], "as": ["series", "value"]}],
              "mark": {"type": "line", "strokeWidth": 1.2},
              "encoding": {
                "x": {"field": "date", "type": "temporal",
                  "scale": {"type": "utc", "nice": false, "domain": [{"year": 1999, "month": 1, "date": 1, "utc": true}, {"year": 2011, "month": 3, "date": 7, "utc": true}]},
                  "axis": {"title": null, "orient": "bottom", "tickSize": 5, "labelPadding": 3, "labelFlush": false, "labelOverlap": false, "labelOffset": 16,
                    "values": [{"year":1999,"month":1,"date":1,"utc":true},{"year":2000,"month":1,"date":1,"utc":true},{"year":2001,"month":1,"date":1,"utc":true},{"year":2002,"month":1,"date":1,"utc":true},{"year":2003,"month":1,"date":1,"utc":true},{"year":2004,"month":1,"date":1,"utc":true},{"year":2005,"month":1,"date":1,"utc":true},{"year":2006,"month":1,"date":1,"utc":true},{"year":2007,"month":1,"date":1,"utc":true},{"year":2008,"month":1,"date":1,"utc":true},{"year":2009,"month":1,"date":1,"utc":true},{"year":2010,"month":1,"date":1,"utc":true},{"year":2011,"month":1,"date":1,"utc":true}],
                    "labelExpr": "utcyear(datum.value) > 2010 ? '' : utcFormat(datum.value, '%y')"}},
                "y": {"field": "value", "type": "quantitative", "scale": {"domain": [-0.15, 0.368], "nice": false, "zero": false},
                  "axis": {"orient": "left", "title": "Abweichung in Prozent", "values": [-0.15, -0.1, -0.05, 0, 0.05, 0.1, 0.15], "tickSize": 6, "labelPadding": 2, "titlePadding": 21, "labelExpr": "replace(replace(format(datum.value, '.2f'), '0.', '.'), '\u2212', '-')"}},
                "color": {"field": "series", "type": "nominal", "scale": {"domain": ["Abweichung", "Dieselpreis", "Schätzwert"], "range": ["#0000ff", "#ff0000", "#008000"]},
                  "legend": {"legendX": 136, "legendY": 335}}
              }
            }
          ]
        },
        {
          "transform": [{"fold": ["Dieselpreis", "Schätzwert"], "as": ["series", "value"]}],
          "mark": {"type": "line", "strokeWidth": 1.2},
          "encoding": {
            "x": {"field": "date", "type": "temporal", "scale": {"type": "utc", "nice": false, "domain": [{"year": 1999, "month": 1, "date": 1, "utc": true}, {"year": 2011, "month": 3, "date": 7, "utc": true}]},
              "axis": {"title": null, "orient": "bottom", "tickSize": 5, "labelPadding": 3, "labelFlush": false, "labelOverlap": false, "labelOffset": 16,
                "values": [{"year":1999,"month":1,"date":1,"utc":true},{"year":2000,"month":1,"date":1,"utc":true},{"year":2001,"month":1,"date":1,"utc":true},{"year":2002,"month":1,"date":1,"utc":true},{"year":2003,"month":1,"date":1,"utc":true},{"year":2004,"month":1,"date":1,"utc":true},{"year":2005,"month":1,"date":1,"utc":true},{"year":2006,"month":1,"date":1,"utc":true},{"year":2007,"month":1,"date":1,"utc":true},{"year":2008,"month":1,"date":1,"utc":true},{"year":2009,"month":1,"date":1,"utc":true},{"year":2010,"month":1,"date":1,"utc":true},{"year":2011,"month":1,"date":1,"utc":true}],
                "labelExpr": "utcyear(datum.value) > 2010 ? '' : utcFormat(datum.value, '%y')"}},
            "y": {"field": "value", "type": "quantitative", "scale": {"domain": [-1.318, 0.408], "nice": false, "zero": false},
              "axis": {"orient": "right", "title": "Preisveränderung in Prozent", "values": [0.4, 0.2, 0, -0.2, -0.4, -0.6], "tickSize": 5, "labelPadding": 3, "titlePadding": 21,
                "labelExpr": "replace(replace(format(datum.value, '.1f'), '0.', '.'), '\u2212', '-')"}},
            "color": {"field": "series", "type": "nominal", "scale": {"domain": ["Abweichung", "Dieselpreis", "Schätzwert"], "range": ["#0000ff", "#ff0000", "#008000"]},
              "legend": {"legendX": 136, "legendY": 335}}
          }
        }
      ],
      "resolve": {"scale": {"y": "independent"}}
    },
    {
      "title": {"text": "Eurosuper", "offset": 56},
      "width": 392,
      "height": 294,
      "data": {"name": "euro"},
      "layer": [
        {
          "layer": [
            {
              "data": {"values": [{}]},
              "mark": {"type": "rule", "color": "#aaaaaa", "strokeDash": [4, 2], "strokeWidth": 1},
              "encoding": {"y": {"datum": 0.045, "type": "quantitative", "scale": {"domain": [-0.2, 0.3394], "nice": false, "zero": false},
                "axis": {"orient": "left", "title": "Abweichung in Prozent", "values": [-0.2, -0.15, -0.1, -0.05, 0, 0.05, 0.1, 0.15], "tickSize": 6, "labelPadding": 2, "titlePadding": 21, "labelExpr": "replace(replace(format(datum.value, '.2f'), '0.', '.'), '\u2212', '-')"}}}
            },
            {
              "data": {"values": [{}]},
              "mark": {"type": "rule", "color": "#aaaaaa", "strokeDash": [4, 2], "strokeWidth": 1},
              "encoding": {"y": {"datum": -0.045, "type": "quantitative", "scale": {"domain": [-0.2, 0.3394], "nice": false, "zero": false},
                "axis": {"orient": "left", "title": "Abweichung in Prozent", "values": [-0.2, -0.15, -0.1, -0.05, 0, 0.05, 0.1, 0.15], "tickSize": 6, "labelPadding": 2, "titlePadding": 21, "labelExpr": "replace(replace(format(datum.value, '.2f'), '0.', '.'), '\u2212', '-')"}}}
            },
            {
              "data": {"values": [{}]},
              "mark": {"type": "rule", "color": "black", "strokeWidth": 1},
              "encoding": {"y": {"datum": 0, "type": "quantitative", "scale": {"domain": [-0.2, 0.3394], "nice": false, "zero": false},
                "axis": {"orient": "left", "title": "Abweichung in Prozent", "values": [-0.2, -0.15, -0.1, -0.05, 0, 0.05, 0.1, 0.15], "tickSize": 6, "labelPadding": 2, "titlePadding": 21, "labelExpr": "replace(replace(format(datum.value, '.2f'), '0.', '.'), '\u2212', '-')"}}}
            },
            {
              "transform": [{"fold": ["Abweichung"], "as": ["series", "value"]}],
              "mark": {"type": "line", "strokeWidth": 1.2},
              "encoding": {
                "x": {"field": "date", "type": "temporal",
                  "scale": {"type": "utc", "nice": false, "domain": [{"year": 1999, "month": 1, "date": 1, "utc": true}, {"year": 2011, "month": 3, "date": 7, "utc": true}]},
                  "axis": {"title": null, "orient": "bottom", "tickSize": 5, "labelPadding": 3, "labelFlush": false, "labelOverlap": false, "labelOffset": 16,
                    "values": [{"year":1999,"month":1,"date":1,"utc":true},{"year":2000,"month":1,"date":1,"utc":true},{"year":2001,"month":1,"date":1,"utc":true},{"year":2002,"month":1,"date":1,"utc":true},{"year":2003,"month":1,"date":1,"utc":true},{"year":2004,"month":1,"date":1,"utc":true},{"year":2005,"month":1,"date":1,"utc":true},{"year":2006,"month":1,"date":1,"utc":true},{"year":2007,"month":1,"date":1,"utc":true},{"year":2008,"month":1,"date":1,"utc":true},{"year":2009,"month":1,"date":1,"utc":true},{"year":2010,"month":1,"date":1,"utc":true},{"year":2011,"month":1,"date":1,"utc":true}],
                    "labelExpr": "utcyear(datum.value) > 2010 ? '' : utcFormat(datum.value, '%y')"}},
                "y": {"field": "value", "type": "quantitative", "scale": {"domain": [-0.2, 0.3394], "nice": false, "zero": false},
                  "axis": {"orient": "left", "title": "Abweichung in Prozent", "values": [-0.2, -0.15, -0.1, -0.05, 0, 0.05, 0.1, 0.15], "tickSize": 6, "labelPadding": 2, "titlePadding": 21, "labelExpr": "replace(replace(format(datum.value, '.2f'), '0.', '.'), '\u2212', '-')"}},
                "color": {"field": "series", "type": "nominal", "scale": {"domain": ["Abweichung", "Preis Eurosuper", "Schätzwert"], "range": ["#0000ff", "#ff0000", "#008000"]},
                  "legend": {"legendX": 124, "legendY": 335}}
              }
            }
          ]
        },
        {
          "transform": [{"fold": ["Preis Eurosuper", "Schätzwert"], "as": ["series", "value"]}],
          "mark": {"type": "line", "strokeWidth": 1.2},
          "encoding": {
            "x": {"field": "date", "type": "temporal", "scale": {"type": "utc", "nice": false, "domain": [{"year": 1999, "month": 1, "date": 1, "utc": true}, {"year": 2011, "month": 3, "date": 7, "utc": true}]},
              "axis": {"title": null, "orient": "bottom", "tickSize": 5, "labelPadding": 3, "labelFlush": false, "labelOverlap": false, "labelOffset": 16,
                "values": [{"year":1999,"month":1,"date":1,"utc":true},{"year":2000,"month":1,"date":1,"utc":true},{"year":2001,"month":1,"date":1,"utc":true},{"year":2002,"month":1,"date":1,"utc":true},{"year":2003,"month":1,"date":1,"utc":true},{"year":2004,"month":1,"date":1,"utc":true},{"year":2005,"month":1,"date":1,"utc":true},{"year":2006,"month":1,"date":1,"utc":true},{"year":2007,"month":1,"date":1,"utc":true},{"year":2008,"month":1,"date":1,"utc":true},{"year":2009,"month":1,"date":1,"utc":true},{"year":2010,"month":1,"date":1,"utc":true},{"year":2011,"month":1,"date":1,"utc":true}],
                "labelExpr": "utcyear(datum.value) > 2010 ? '' : utcFormat(datum.value, '%y')"}},
            "y": {"field": "value", "type": "quantitative", "scale": {"domain": [-0.823, 0.41], "nice": false, "zero": false},
              "axis": {"orient": "right", "title": "Preisveränderung in Prozent", "values": [0.4, 0.2, 0, -0.2, -0.4], "tickSize": 5, "labelPadding": 3, "titlePadding": 21,
                "labelExpr": "replace(replace(format(datum.value, '.1f'), '0.', '.'), '\u2212', '-')"}},
            "color": {"field": "series", "type": "nominal", "scale": {"domain": ["Abweichung", "Preis Eurosuper", "Schätzwert"], "range": ["#0000ff", "#ff0000", "#008000"]},
              "legend": {"legendX": 124, "legendY": 335}}
          }
        }
      ],
      "resolve": {"scale": {"y": "independent"}}
    }
  ],
  "spacing": 60,
  "resolve": {"scale": {"color": "independent"}, "legend": {"color": "independent"}}
}
